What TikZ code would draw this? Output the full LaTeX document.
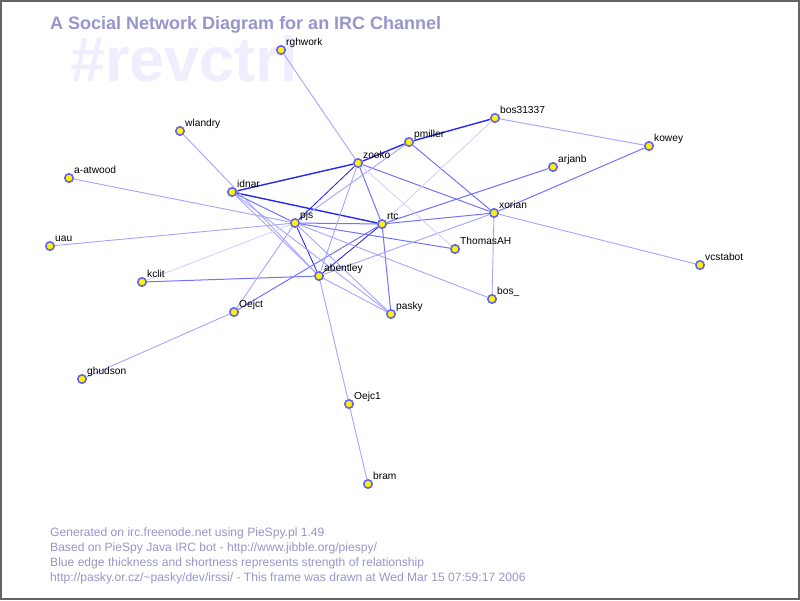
\documentclass[tikz,border=0pt]{standalone}
\usepackage{fontspec}
\setmainfont{Liberation Sans}
\usetikzlibrary{backgrounds}
\definecolor{headblue}{RGB}{150,150,204}
\definecolor{markblue}{RGB}{238,238,255}
\definecolor{ringblue}{RGB}{100,100,240}
\definecolor{framegray}{RGB}{100,100,100}
\definecolor{heavyblue}{RGB}{40,40,245}
\definecolor{darkblue}{RGB}{25,25,235}
\definecolor{midblue}{RGB}{115,115,255}
\definecolor{lightblue}{RGB}{165,165,255}
\definecolor{faintblue}{RGB}{210,210,255}
\begin{document}
\begin{tikzpicture}[x=1pt, y=-1pt,
    usr/.style={circle, draw=ringblue, fill=yellow, line width=1.6pt,
      minimum size=8.4pt, inner sep=0pt},
    nick/.style={anchor=base west, inner sep=0pt,
      font=\fontsize{10.2}{12}\selectfont},
    foot/.style={anchor=base west, inner sep=0pt, text=headblue,
      font=\fontsize{12.1}{14}\selectfont},
    heavy/.style={heavyblue, line width=1.4pt},
    dark/.style={darkblue, line width=0.8pt},
    mid/.style={midblue, line width=1pt},
    light/.style={lightblue, line width=0.9pt},
    faint/.style={faintblue, line width=0.9pt}]
  \useasboundingbox (0,0) rectangle (800,600);
  \foreach \n/\x/\y/\t in {rghwork/281/50/rghwork, wlandry/180/131/wlandry,
      aatwood/69/178/a-atwood, idnar/232/192/idnar, uau/50/246/uau,
      kclit/142/282/kclit, oejct/234/312/Oejct, ghudson/82/379/ghudson,
      pjs/295/223/pjs, zooko/358/163/zooko, pmiller/409/142/pmiller,
      bos/495/118/bos31337, kowey/649/146/kowey, arjanb/553/167/arjanb,
      xorian/494/213/xorian, rtc/382/224/rtc, thomasah/455/249/ThomasAH,
      vcstabot/700/265/vcstabot, abentley/319/276/abentley,
      pasky/391/314/pasky, bosu/492/299/bos\_, oejcone/349/404/Oejc1,
      bram/368/484/bram} {
    \node[usr] (\n) at (\x,\y) {};
    \node[nick] (\n-nick) at (\x+5,\y-5) {\t};
  }
  \begin{pgfonlayer}{background}
    \fill[white] (0,0) rectangle (800,600);
    \draw[framegray, line width=2pt] (1,1) rectangle (799,599);
    \node[anchor=base west, inner sep=0pt, text=markblue,
      font=\fontsize{63}{70}\bfseries] (channel) at (70,81) {\#revctrl};
    \node[anchor=base west, inner sep=0pt, text=headblue,
      font=\fontsize{18}{20}\bfseries] (title) at (50,29)
      {A Social Network Diagram for an IRC Channel};
    \foreach \a/\b in {idnar/zooko, idnar/rtc, zooko/pmiller, pmiller/bos}
      \draw[heavy] (\a) -- (\b);
    \foreach \a/\b in {pjs/zooko, pjs/abentley, rtc/abentley}
      \draw[dark] (\a) -- (\b);
    \foreach \a/\b in {idnar/pjs, zooko/rtc, rtc/xorian, rtc/pasky, pjs/rtc,
        kowey/xorian, arjanb/rtc, pmiller/xorian, oejct/rtc, zooko/xorian,
        pjs/thomasah, kclit/abentley}
      \draw[mid] (\a) -- (\b);
    \foreach \a/\b in {aatwood/pjs, uau/pjs, pjs/oejct, oejct/ghudson,
        pjs/pmiller, pjs/bosu, xorian/bosu, xorian/abentley, bos/kowey,
        xorian/vcstabot, abentley/oejcone, oejcone/bram, abentley/pasky,
        zooko/abentley, wlandry/abentley, rghwork/zooko, idnar/abentley,
        pjs/pasky, idnar/pasky}
      \draw[light] (\a) -- (\b);
    \foreach \a/\b in {kclit/pjs, zooko/thomasah, bos/rtc}
      \draw[faint] (\a) -- (\b);
  \end{pgfonlayer}
  \node[foot] (foot1) at (50,536) {Generated on irc.freenode.net using PieSpy.pl 1.49};
  \node[foot] (foot2) at (50,551) {Based on PieSpy Java IRC bot - http://www.jibble.org/piespy/};
  \node[foot] (foot3) at (50,566) {Blue edge thickness and shortness represents strength of relationship};
  \node[foot] (foot4) at (50,581) {http://pasky.or.cz/\textasciitilde pasky/dev/irssi/ - This frame was drawn at Wed Mar 15 07:59:17 2006};
\end{tikzpicture}
\end{document}
